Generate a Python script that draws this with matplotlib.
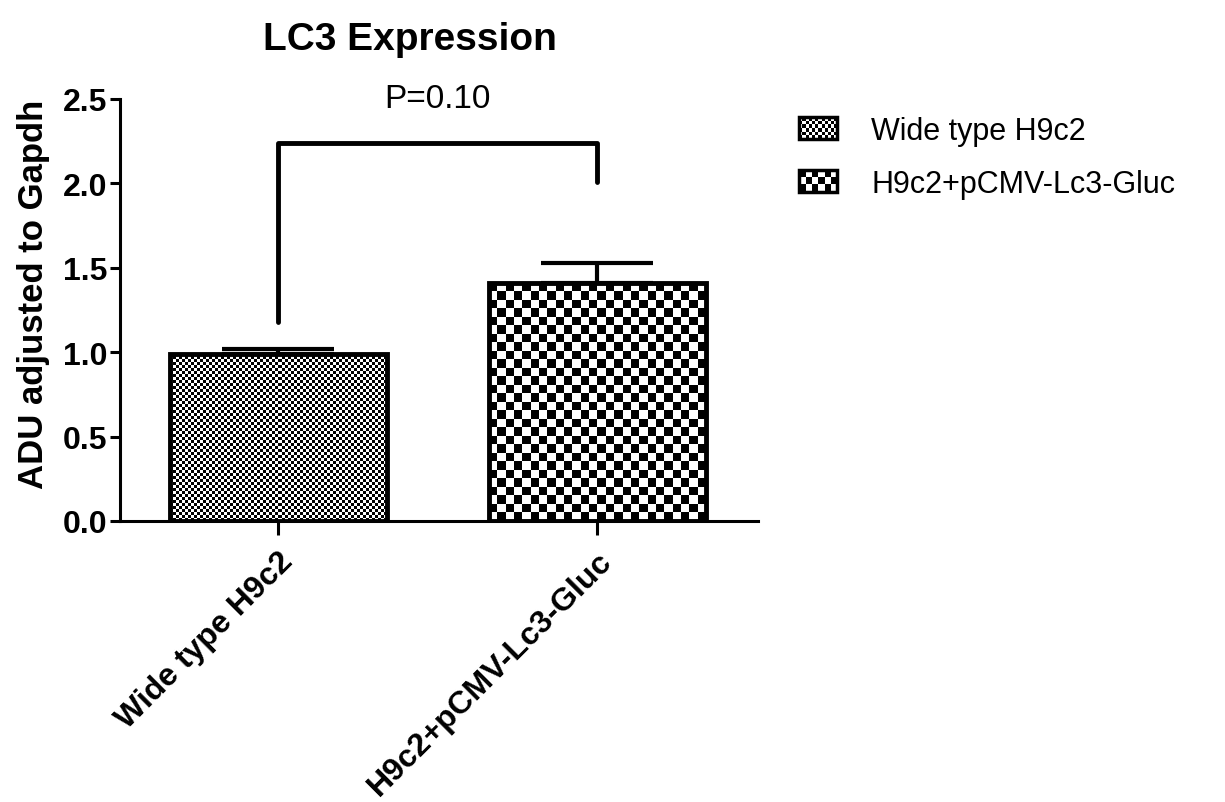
import numpy as np
import matplotlib.pyplot as plt
from matplotlib.patches import Rectangle
from matplotlib.collections import PatchCollection
from matplotlib.legend_handler import HandlerBase

plt.rcParams['font.family'] = ['Liberation Sans', 'DejaVu Sans']

# Data
groups = ['Wide type H9c2', 'H9c2+pCMV-Lc3-Gluc']
means = [0.99, 1.41]
sem = [0.03, 0.12]
p_label = 'P=0.10'
bracket_left = 1.18
bracket_right = 2.01
bracket_top = 2.24
cell_px = [3.0, 8.5]      # checker cell size (pixels) for each bar
legend_cells = [2.2, 4.5]  # checker cell size in legend boxes (points)


def checker(ny, nx):
    yy, xx = np.indices((ny, nx))
    return ((xx + yy) % 2).astype(float)


class CheckerHandler(HandlerBase):
    def __init__(self, cell):
        super().__init__()
        self.cell = cell

    def create_artists(self, legend, orig_handle, xdescent, ydescent,
                       width, height, fontsize, trans):
        x0, y0 = -xdescent, -ydescent
        bg = Rectangle((x0, y0), width, height, facecolor='white',
                       edgecolor='none', transform=trans)
        nx = int(width / self.cell)
        ny = int(height / self.cell)
        cw, ch = width / nx, height / ny
        sq = [Rectangle((x0 + i * cw, y0 + j * ch), cw, ch)
              for i in range(nx) for j in range(ny) if (i + j) % 2 == 0]
        pc = PatchCollection(sq, facecolor='black', edgecolor='none',
                             transform=trans)
        edge = Rectangle((x0, y0), width, height, facecolor='none',
                         edgecolor='black', lw=2.5, transform=trans)
        return [bg, pc, edge]


fig = plt.figure(figsize=(12.25, 8.03), dpi=100)
ax = fig.add_axes([0.098, 0.35, 0.521, 0.5255])

x = np.arange(len(groups))
bars = ax.bar(x, means, width=0.68, facecolor='none', edgecolor='black',
              linewidth=3.5, zorder=3)
ax.errorbar(x, means, yerr=[np.zeros(len(sem)), sem], fmt='none',
            ecolor='black', elinewidth=3, capsize=40, capthick=3, zorder=2)

ax.set_xlim(-0.495, 1.505)
ax.set_ylim(0, 2.5)
ax.set_yticks([0, 0.5, 1.0, 1.5, 2.0, 2.5])
ax.set_yticklabels(['0.0', '0.5', '1.0', '1.5', '2.0', '2.5'],
                   fontweight='bold', fontsize=23)
ax.set_xticks(x)
ax.set_xticklabels(groups, rotation=45, ha='right', rotation_mode='anchor',
                   fontweight='bold', fontsize=23)
ax.tick_params(axis='y', width=2.2, length=7, pad=2)
ax.tick_params(axis='x', width=2.2, length=10, pad=8)
for s in ['top', 'right']:
    ax.spines[s].set_visible(False)
for s in ['left', 'bottom']:
    ax.spines[s].set_linewidth(2.2)

ax.set_ylabel('ADU adjusted to Gapdh', fontsize=25, fontweight='bold',
              va='center')
ax.yaxis.set_label_coords(-0.135, 0.54)

# checker textures clipped to bars
fig.canvas.draw()
for b, cp in zip(bars, cell_px):
    bb = b.get_window_extent()
    nx = max(1, int(round(bb.width / cp)))
    ny = max(1, int(round(bb.height / cp)))
    x0, y0 = b.get_x(), b.get_y()
    im = ax.imshow(checker(ny, nx), cmap='gray', vmin=0, vmax=1,
                   extent=[x0, x0 + b.get_width(), y0, y0 + b.get_height()],
                   interpolation='nearest', aspect='auto', zorder=2.5)
    im.set_clip_path(b)
ax.set_xlim(-0.495, 1.505)
ax.set_ylim(0, 2.5)

# significance bracket
ax.plot([x[0], x[0], x[1], x[1]],
        [bracket_left, bracket_top, bracket_top, bracket_right],
        color='black', lw=3.5, solid_capstyle='round', zorder=4)
ax.text((x[0] + x[1]) / 2, bracket_top + 0.26, p_label, ha='center',
        va='center', fontsize=24)

fig.text(0.335, 0.95, 'LC3 Expression', ha='center', va='center',
         fontsize=28, fontweight='bold')

handles = [Rectangle((0, 0), 1, 1) for _ in groups]
leg = fig.legend(handles, groups, loc='upper left',
                 bbox_to_anchor=(0.630, 0.889), frameon=False, fontsize=22,
                 handlelength=1.25, handleheight=0.7, handletextpad=1.1,
                 labelspacing=0.75,
                 handler_map={handles[0]: CheckerHandler(legend_cells[0]),
                              handles[1]: CheckerHandler(legend_cells[1])})

fig.savefig('out.png', dpi=100)
